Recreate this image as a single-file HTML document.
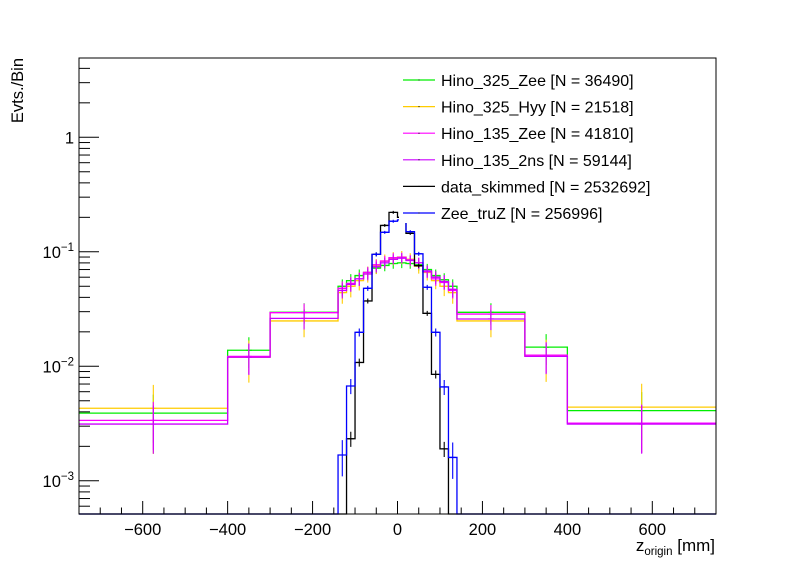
<!DOCTYPE html>
<html><head><meta charset="utf-8"><style>
html,body{margin:0;padding:0;background:#fff;}
svg{display:block;font-family:"Liberation Sans",Arial,sans-serif;}
</style></head><body>
<svg id="chart" width="796" height="572" viewBox="0 0 796 572" xmlns="http://www.w3.org/2000/svg">
<rect x="0" y="0" width="796" height="572" fill="#fff"/>
<g id="marks"></g>
<g id="axes"></g>
<g id="legend"></g>
</svg>
<script>
const binEdges = [-750,-400,-300,-140,-120,-100,-80,-60,-40,-20,0,20,40,60,80,100,120,140,300,400,750];
const seriesNames = ["Hino_325_Zee [N = 36490]","Hino_325_Hyy [N = 21518]","Hino_135_Zee [N = 41810]","Hino_135_2ns [N = 59144]","data_skimmed [N = 2532692]","Zee_truZ [N = 256996]"];
const seriesColors = ["#00ee00","#ffcc00","#ff00ff","#cc00ff","#000000","#0000ff"];
const hino325Zee = [0.0039,0.0138,0.0296,0.050,0.056,0.062,0.066,0.072,0.076,0.079,0.080,0.079,0.077,0.070,0.062,0.057,0.050,0.0296,0.0147,0.0041];
const hino325Hyy = [0.0043,0.0120,0.0249,0.044,0.050,0.056,0.064,0.075,0.083,0.088,0.090,0.086,0.075,0.066,0.056,0.050,0.044,0.0249,0.0122,0.0044];
const hino135Zee = [0.00337,0.0122,0.0294,0.048,0.053,0.058,0.066,0.077,0.083,0.089,0.0895,0.085,0.080,0.067,0.058,0.054,0.046,0.0286,0.0125,0.00319];
const hino135Ns = [0.00313,0.0120,0.0262,0.046,0.052,0.058,0.064,0.074,0.080,0.086,0.088,0.084,0.080,0.068,0.060,0.055,0.047,0.0259,0.0122,0.00313];
const dataSkimmed = [0,0,0,0,0.00233,0.0108,0.0372,0.095,0.170,0.221,0.20,0.145,0.0756,0.029,0.0085,0.0019,0,0,0,0];
const zeeTruZ = [0,0,0,0.00168,0.00673,0.0198,0.048,0.095,0.148,0.185,0.19,0.150,0.096,0.049,0.0198,0.0066,0.0016,0,0,0];
const relErrSignal = [0.45,0.3,0.2,0.15,0.14,0.13,0.12,0.11,0.11,0.1,0.1,0.1,0.11,0.12,0.13,0.14,0.15,0.2,0.3,0.45];
const relErrHyy = [0.6,0.4,0.28,0.2,0.2,0.18,0.16,0.15,0.14,0.13,0.13,0.13,0.14,0.15,0.16,0.18,0.2,0.28,0.4,0.6];
const relErrBkg = [0,0,0,0.35,0.15,0.08,0.05,0.04,0.03,0.03,0.03,0.03,0.04,0.05,0.08,0.15,0.35,0,0,0];
const xTicks = [-600,-400,-200,0,200,400,600];
const yDecades = [-3,-2,-1,0];
const yDecadeLabels = ["10","10","10","1"];
const yDecadeExps = ["\u22123","\u22122","\u22121",""];

const NS="http://www.w3.org/2000/svg";
const X0=79,X1=716,Y0=58,Y1=514, XMIN=-750, XMAX=750;
const LOGMAX = (137.3-Y0)/114.5, LOGMIN=(137.3-Y1)/114.5;
function xs(v){return X0+(v-XMIN)/(XMAX-XMIN)*(X1-X0);}
function ys(v){ if(v<=0) return Y1; let l=Math.log10(v); let y=137.3-114.5*l; return Math.min(Y1,Math.max(Y0,y)); }
function el(tag,attrs,parent){const e=document.createElementNS(NS,tag);for(const k in attrs)e.setAttribute(k,attrs[k]);parent.appendChild(e);return e;}
const marks=document.getElementById('marks'), axes=document.getElementById('axes'), leg=document.getElementById('legend');

const allSeries=[hino325Zee,hino325Hyy,hino135Zee,hino135Ns,dataSkimmed,zeeTruZ];
const seriesKeys=["hino-325-zee","hino-325-hyy","hino-135-zee","hino-135-2ns","data-skimmed","zee-truz"];
const errs=[relErrSignal,relErrHyy,relErrSignal,relErrSignal,relErrBkg,relErrBkg];
allSeries.forEach((vals,s)=>{
  const g=el('g',{},marks);
  
  
  let d='M'+xs(binEdges[0])+','+ys(vals[0]);
  for(let i=0;i<vals.length;i++){
    d+=' L'+xs(binEdges[i])+','+ys(vals[i])+' L'+xs(binEdges[i+1])+','+ys(vals[i]);
  }
  const p=el('path',{d:d,fill:'none',stroke:seriesColors[s],'stroke-width':1.3},g);
  
  
  for(let i=0;i<vals.length;i++){
    const v=vals[i]; if(v<=0) continue;
    const cx=xs((binEdges[i]+binEdges[i+1])/2);
    const e=errs[s][i]*v;
    const eb=el('path',{d:'M'+cx+','+ys(v+e)+' L'+cx+','+ys(Math.max(v-e,1e-6))+' M'+(cx-3)+','+ys(v)+' L'+(cx+3)+','+ys(v),stroke:seriesColors[s],'stroke-width':1.1,fill:'none'},g);
    
    
  }
});

const fr=el('rect',{x:X0,y:Y0,width:X1-X0,height:Y1-Y0,fill:'none',stroke:'#000','stroke-width':1},axes);


for(let v=-750; v<=750; v+=50){
  const major=(v%200===0);
  el('line',{x1:xs(v),x2:xs(v),y1:Y1,y2:Y1-(major?13:6.5),stroke:'#000','stroke-width':1},axes);
}
xTicks.forEach(v=>{
  const t=el('text',{x:xs(v),y:535,'font-size':16.5,'text-anchor':'middle',fill:'#000'},axes);
  t.textContent=(v<0?'\u2212':'')+Math.abs(v);
  
  
});
for(let d=-4; d<=0; d++){
  for(let m=1;m<=9;m++){
    const v=m*Math.pow(10,d); const l=Math.log10(v);
    if(l<LOGMIN||l>LOGMAX) continue;
    const y=137.3-114.5*l;
    el('line',{x1:X0,x2:X0+(m===1?20:11),y1:y,y2:y,stroke:'#000','stroke-width':1},axes);
  }
}
yDecades.forEach((d,i)=>{
  const y=137.3-114.5*d;
  const t=el('text',{x:74,y:y+6,'font-size':16.5,'text-anchor':'end',fill:'#000'},axes);
  
  
  if(yDecadeExps[i]){
    const a=el('tspan',{},t); a.textContent=yDecadeLabels[i];
    const b=el('tspan',{dy:-7,'font-size':11.5},t); b.textContent=yDecadeExps[i];
  } else t.textContent=yDecadeLabels[i];
});
const yt=el('text',{x:0,y:0,'font-size':16.5,'text-anchor':'end',transform:'translate(23,58) rotate(-90)',fill:'#000'},axes);
yt.textContent='Evts./Bin';


const xt=el('text',{x:715,y:551,'font-size':17,'text-anchor':'end',fill:'#000'},axes);


const x1=el('tspan',{},xt); x1.textContent='z';
const x2=el('tspan',{dy:4,'font-size':11.5},xt); x2.textContent='origin';
const x3=el('tspan',{dy:-4},xt); x3.textContent=' [mm]';

const lb=el('rect',{x:399,y:66,width:262,height:157,fill:'#fff'},leg);


seriesNames.forEach((n,i)=>{
  const y=80+i*26.6;
  const g=el('g',{},leg);
  
  
  el('line',{x1:403,x2:435,y1:y,y2:y,stroke:seriesColors[i],'stroke-width':1.2},g);
  el('line',{x1:419,x2:419,y1:y-0.5,y2:y+0.5,stroke:'#000','stroke-width':1},g);
  const t=el('text',{x:441,y:y+6,'font-size':16,fill:'#000'},g);
  t.textContent=n;
});
</script>
</body></html>
